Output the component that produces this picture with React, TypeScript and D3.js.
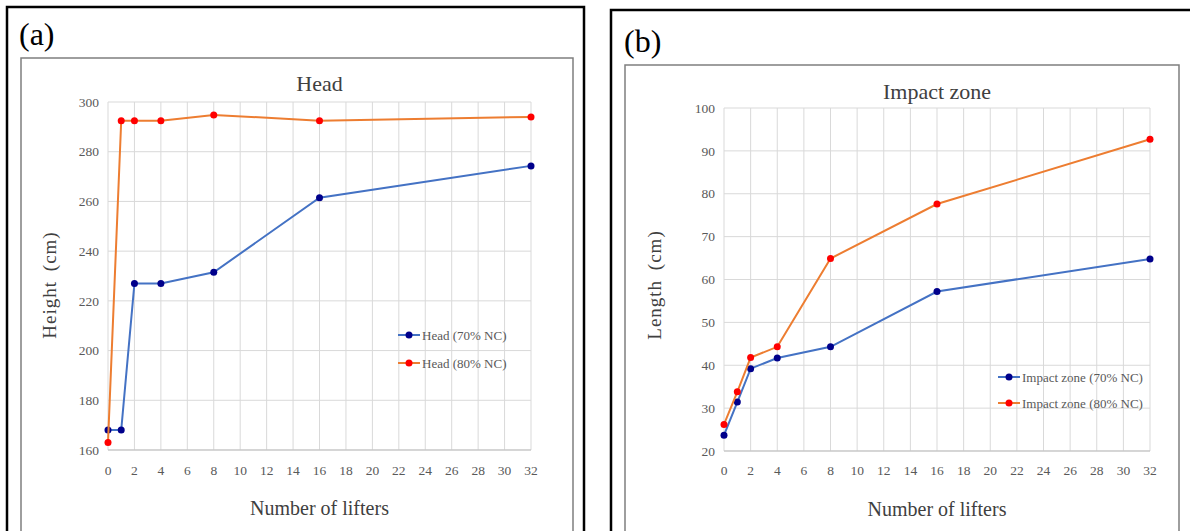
import React from "react";
import * as d3 from "d3";

const lifters = [0, 1, 2, 4, 8, 16, 32];
const xTicks = d3.range(0, 33, 2);

const head70 = [168, 168, 227, 227, 231.5, 261.5, 274.3];
const head80 = [163, 292.5, 292.5, 292.5, 294.8, 292.5, 294];
const headTicks = [160, 180, 200, 220, 240, 260, 280, 300];

const impact70 = [23.7, 31.4, 39.2, 41.7, 44.3, 57.2, 64.8];
const impact80 = [26.2, 33.8, 41.8, 44.3, 64.9, 77.6, 92.7];
const impactTicks = [20, 30, 40, 50, 60, 70, 80, 90, 100];

const FONT = "Liberation Serif";
const C70LINE = "#4472C4";
const C70MARK = "#00008B";
const C80LINE = "#ED7D31";
const C80MARK = "#FF0000";

type PanelProps = {
  letter: string;
  title: string;
  yLabel: string;
  yTicks: number[];
  s70: number[];
  s80: number[];
  name70: string;
  name80: string;
  outer: { x1: number; y1: number; x2: number | null };
  inner: { x1: number; y1: number; x2: number };
  plot: { left: number; right: number; top: number; bottom: number };
  letterPos: [number, number];
  titleY: number;
  yLabelX: number;
  yLabelY: number;
  xLabelY: number;
  xTickY: number;
  legend: { x: number; y1: number; y2: number };
};

function Panel(p: PanelProps) {
  const x = d3.scaleLinear().domain([0, 32]).range([p.plot.left, p.plot.right]);
  const y = d3
    .scaleLinear()
    .domain([p.yTicks[0], p.yTicks[p.yTicks.length - 1]])
    .range([p.plot.bottom, p.plot.top]);
  const line = d3
    .line<number>()
    .x((_, i) => x(lifters[i]))
    .y((v) => y(v));
  const cx = (p.plot.left + p.plot.right) / 2;
  const series = [
    { vals: p.s70, lc: C70LINE, mc: C70MARK, name: p.name70, ly: p.legend.y1 },
    { vals: p.s80, lc: C80LINE, mc: C80MARK, name: p.name80, ly: p.legend.y2 },
  ];
  const f = (size: number, extra: React.CSSProperties = {}) => ({
    fontFamily: FONT,
    fontSize: size,
    ...extra,
  });
  return (
    <g>
      <polyline
        points={
          p.outer.x2 !== null
            ? `${p.outer.x1},540 ${p.outer.x1},${p.outer.y1} ${p.outer.x2},${p.outer.y1} ${p.outer.x2},540`
            : `${p.outer.x1},540 ${p.outer.x1},${p.outer.y1} 1200,${p.outer.y1}`
        }
        fill="none"
        stroke="#000"
        strokeWidth={2.5}
      />
      <polyline
        points={`${p.inner.x1},540 ${p.inner.x1},${p.inner.y1} ${p.inner.x2},${p.inner.y1} ${p.inner.x2},540`}
        fill="none"
        stroke="#7F7F7F"
        strokeWidth={1.5}
      />
      <text x={p.letterPos[0]} y={p.letterPos[1]} style={f(32)} fill="#000">
        {p.letter}
      </text>
      <text x={cx} y={p.titleY} style={f(22)} fill="#404040" textAnchor="middle">
        {p.title}
      </text>
      {p.yTicks.map((t) => (
        <line key={"h" + t} x1={p.plot.left} x2={p.plot.right} y1={y(t)} y2={y(t)} stroke="#D9D9D9" strokeWidth={1} />
      ))}
      {xTicks.map((t) => (
        <line key={"v" + t} x1={x(t)} x2={x(t)} y1={p.plot.top} y2={p.plot.bottom} stroke="#D9D9D9" strokeWidth={1} />
      ))}
      <line x1={p.plot.left} x2={p.plot.right} y1={p.plot.bottom} y2={p.plot.bottom} stroke="#BFBFBF" strokeWidth={1} />
      {p.yTicks.map((t) => (
        <text
          key={"yl" + t}
          x={p.plot.left - 9}
          y={y(t)}
          dy="0.35em"
          textAnchor="end"
          style={f(13.5)}
          fill="#595959"
        >
          {t}
        </text>
      ))}
      {xTicks.map((t) => (
        <text
          key={"xl" + t}
          x={x(t)}
          y={p.xTickY}
          dy="0.35em"
          textAnchor="middle"
          style={f(13.5)}
          fill="#595959"
        >
          {t}
        </text>
      ))}
      <text
        transform={`translate(${p.yLabelX},${p.yLabelY}) rotate(-90)`}
        textAnchor="middle"
        dy="0.35em"
        style={f(19, { letterSpacing: "1px", wordSpacing: "4px" })}
        fill="#404040"
      >
        {p.yLabel}
      </text>
      <text x={cx} y={p.xLabelY} dy="0.35em" textAnchor="middle" style={f(20)} fill="#404040">
        Number of lifters
      </text>
      {series.map((s, si) => (
        <g key={"s" + si}>
          <path d={line(s.vals) || ""} fill="none" stroke={s.lc} strokeWidth={2} />
          {s.vals.map((v, i) => (
            <circle key={i} cx={x(lifters[i])} cy={y(v)} r={3.5} fill={s.mc} />
          ))}
        </g>
      ))}
      {series.map((s, si) => (
        <g key={"l" + si}>
          <line x1={p.legend.x} x2={p.legend.x + 22} y1={s.ly} y2={s.ly} stroke={s.lc} strokeWidth={2} />
          <circle cx={p.legend.x + 11} cy={s.ly} r={3.5} fill={s.mc} />
          <text x={p.legend.x + 24} y={s.ly} dy="0.35em" style={f(13)} fill="#595959">
            {s.name}
          </text>
        </g>
      ))}
    </g>
  );
}

export default function App() {
  return (
    <svg
      width={1190}
      height={531}
      style={{ position: "absolute", left: 0, top: 0, background: "#fff" }}
    >
      <rect x={0} y={0} width={1190} height={531} fill="#fff" />
      <Panel
        letter="(a)"
        title="Head"
        yLabel="Height (cm)"
        yTicks={headTicks}
        s70={head70}
        s80={head80}
        name70="Head (70% NC)"
        name80="Head (80% NC)"
        outer={{ x1: 7, y1: 7, x2: 584 }}
        inner={{ x1: 21, y1: 58, x2: 573 }}
        plot={{ left: 108, right: 531, top: 102, bottom: 450 }}
        letterPos={[19, 45]}
        titleY={91}
        yLabelX={49}
        yLabelY={285}
        xLabelY={508}
        xTickY={470}
        legend={{ x: 398, y1: 335, y2: 363 }}
      />
      <Panel
        letter="(b)"
        title="Impact zone"
        yLabel="Length (cm)"
        yTicks={impactTicks}
        s70={impact70}
        s80={impact80}
        name70="Impact zone (70% NC)"
        name80="Impact zone (80% NC)"
        outer={{ x1: 611, y1: 10, x2: null }}
        inner={{ x1: 625, y1: 65, x2: 1179 }}
        plot={{ left: 724, right: 1150, top: 108, bottom: 451 }}
        letterPos={[624, 52]}
        titleY={99}
        yLabelX={654}
        yLabelY={285}
        xLabelY={509}
        xTickY={470}
        legend={{ x: 998, y1: 377, y2: 403 }}
      />
    </svg>
  );
}
